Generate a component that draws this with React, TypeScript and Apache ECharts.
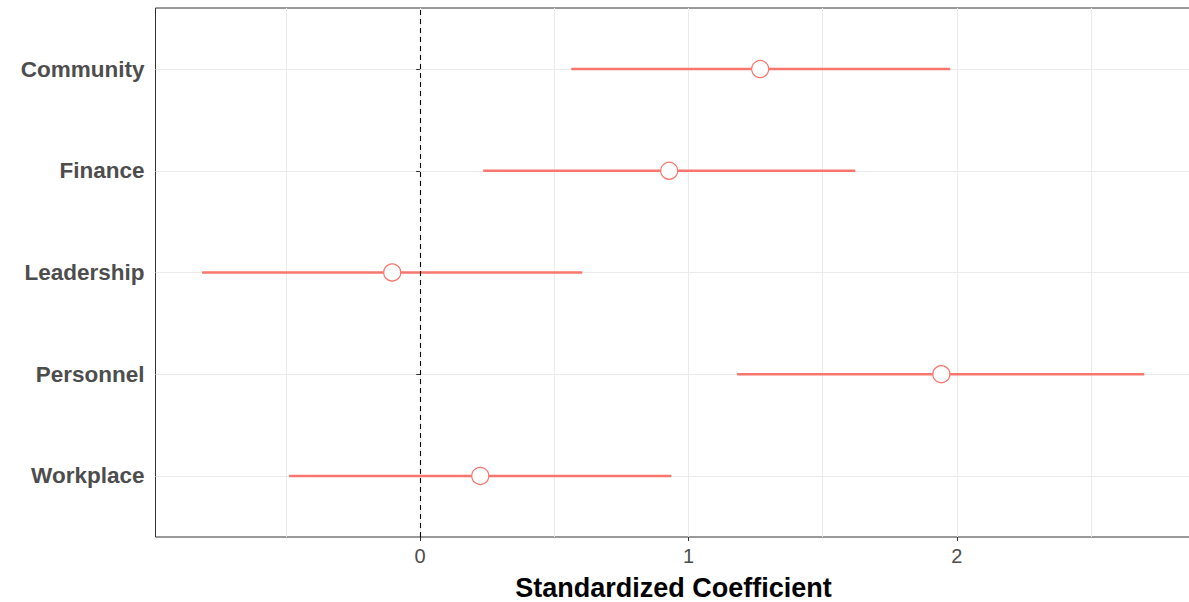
import React, { useEffect, useRef } from "react";
import * as echarts from "echarts";

const categories = ["Community", "Finance", "Leadership", "Personnel", "Workplace"];
const estimates = [1.267, 0.928, -0.104, 1.942, 0.224];
const lowers = [0.563, 0.235, -0.8125, 1.181, -0.488];
const uppers = [1.975, 1.621, 0.604, 2.698, 0.936];
const xTicks = [0, 1, 2];
const xMinor = [-0.5, 0.5, 1.5, 2.5];
const xLimits = [-0.986, 2.874];

const RED = "#F8766D";

export default function App() {
  const ref = useRef<HTMLDivElement>(null);
  useEffect(() => {
    if (!ref.current) return;
    const chart = echarts.init(ref.current, null, { renderer: "svg" });
    const n = categories.length;
    const yPos = categories.map((_, i) => n - i);
    const yTicks = yPos.slice().sort((a, b) => a - b);
    const labelFor = (v: number) => {
      const idx = yPos.indexOf(Math.round(v));
      return idx >= 0 ? categories[idx] : "";
    };
    const errData = categories.map((_, i) => [lowers[i], uppers[i], yPos[i]]);
    const ptData = categories.map((_, i) => [estimates[i], yPos[i]]);
    chart.setOption({
      animation: false,
      grid: {
        left: 155.5,
        width: 1036,
        top: 8,
        height: 529,
        outerBoundsMode: "none",
        containLabel: false,
        show: true,
        borderColor: "#333333",
        borderWidth: 1,
        backgroundColor: "transparent",
      },
      xAxis: [
        {
          type: "value",
          min: xLimits[0],
          max: xLimits[1],
          name: "Standardized Coefficient",
          nameLocation: "middle",
          nameGap: 39,
          nameTextStyle: {
            fontFamily: "Liberation Sans, Arial, sans-serif",
            fontWeight: "bold",
            fontSize: 27,
            lineHeight: 23,
            color: "#000000",
          },
          axisLine: { show: false },
          axisTick: { show: true, customValues: xTicks, length: 4, lineStyle: { color: "#333333" } },
          axisLabel: {
            customValues: xTicks,
            formatter: (v: number) => String(Math.round(v)),
            fontFamily: "Liberation Sans, Arial, sans-serif",
            fontSize: 20,
            color: "#4D4D4D",
            margin: 9,
          },
          splitLine: { show: true, lineStyle: { color: "#EBEBEB", width: 1 } },
        },
        {
          type: "value",
          min: xLimits[0],
          max: xLimits[1],
          position: "bottom",
          axisLine: { show: false },
          axisTick: { show: false, customValues: xMinor },
          axisLabel: { show: false, customValues: xMinor },
          splitLine: { show: true, lineStyle: { color: "#EBEBEB", width: 1 } },
        },
      ],
      yAxis: {
        type: "value",
        min: 0.4,
        max: n + 0.6,
        axisLine: { show: false },
        axisTick: { show: true, customValues: yTicks, length: 4, lineStyle: { color: "#333333" } },
        axisLabel: {
          customValues: yTicks,
          formatter: (v: number) => labelFor(v),
          fontFamily: "Liberation Sans, Arial, sans-serif",
          fontWeight: "bold",
          fontSize: 22.5,
          color: "#4D4D4D",
          margin: 11,
        },
        splitLine: { show: true, lineStyle: { color: "#EBEBEB", width: 1 } },
      },
      series: [
        {
          type: "custom",
          xAxisIndex: 0,
          data: errData,
          renderItem: (params: any, api: any) => {
            const p1 = api.coord([api.value(0), api.value(2)]);
            const p2 = api.coord([api.value(1), api.value(2)]);
            return {
              type: "line",
              shape: { x1: p1[0], y1: p1[1], x2: p2[0], y2: p2[1] },
              style: { stroke: RED, lineWidth: 2.6 },
            };
          },
          z: 3,
          markLine: {
            silent: true,
            symbol: "none",
            label: { show: false },
            lineStyle: { color: "#000000", type: [5, 4], width: 1.1 },
            data: [{ xAxis: 0 }],
          },
        },
        {
          type: "scatter",
          xAxisIndex: 0,
          data: ptData,
          symbol: "circle",
          symbolSize: 17,
          itemStyle: { color: "#FFFFFF", borderColor: RED, borderWidth: 1.2, opacity: 1 },
          z: 4,
        },
      ],
    });
    return () => chart.dispose();
  }, []);
  return (
    <div
      ref={ref}
      style={{ position: "fixed", left: 0, top: 0, width: 1189, height: 602, background: "#fff" }}
    />
  );
}
